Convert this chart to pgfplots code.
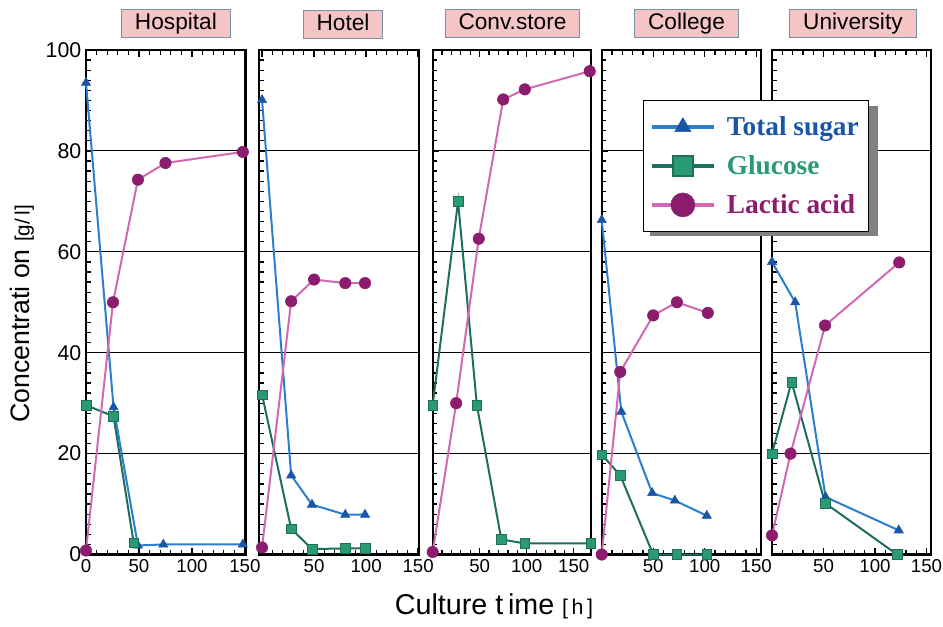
\documentclass[border=0pt]{standalone}
\usepackage{pgfplots}
\pgfplotsset{compat=1.18}
\usepackage{fontspec}
\setmainfont{Liberation Sans}
\newfontfamily\legfont{Liberation Serif}

\definecolor{sugarline}{RGB}{42,126,208}
\definecolor{sugarmark}{RGB}{26,86,168}
\definecolor{glucline}{RGB}{30,110,96}
\definecolor{glucmark}{RGB}{42,154,112}
\definecolor{lacline}{RGB}{210,104,178}
\definecolor{lacmark}{RGB}{140,28,110}
\definecolor{titlefill}{RGB}{245,196,196}
\definecolor{titledraw}{RGB}{122,144,168}

\pgfplotsset{
  sugar/.style={color=sugarline, line width=1.5pt, mark=triangle*, mark size=4pt,
    mark options={solid, fill=sugarmark, draw=sugarmark, line width=0.4pt}},
  gluc/.style={color=glucline, line width=1.5pt, mark=square*, mark size=3.6pt,
    mark options={solid, fill=glucmark, draw=glucline, line width=0.4pt}},
  lac/.style={color=lacline, line width=1.5pt, mark=*, mark size=4.3pt,
    mark options={solid, fill=lacmark, draw=lacmark, line width=0.4pt}},
  panel/.style={
    scale only axis, anchor=south west, height=378.4pt,
    ymin=0, ymax=100, ytick={0,20,...,100}, minor y tick num=9,
    xtick={0,50,100,150}, minor x tick num=4,
    xticklabels={,50,100,150}, yticklabels={},
    tick align=inside, ytick pos=left,
    major tick length=5pt, minor tick length=3.5pt,
    every tick/.style={black, line width=0.9pt},
    axis line style={line width=1.6pt},
    ymajorgrids, major grid style={black, line width=0.75pt},
    clip=false,
    /pgf/number format/assume math mode=true,
    yticklabel style={font=\fontsize{16}{16}\selectfont},
    xticklabel style={font=\fontsize{14}{14}\selectfont},
    title style={anchor=center, fill=titlefill, draw=titledraw, line width=0.7pt,
      font=\fontsize{17}{17}\selectfont, inner xsep=10pt, inner ysep=2.5pt,
      text height=12.5pt, text depth=3.5pt},
  },
}

\begin{document}
\begin{tikzpicture}
\useasboundingbox (0,0) rectangle (707.25pt,-469.5pt);

% Hospital
\begin{axis}[panel, at={(64.5pt,-415.9pt)}, width=119.6pt, xmin=0, xmax=150.5,
  xticklabels={0,50,100,150}, yticklabels={0,20,40,60,80,100},
  title={Hospital}, title style={at={(0.564,1.037)}},
  ylabel={Concentrati on {\fontsize{15.5}{15.5}\selectfont[g/\,l]}},
  ylabel style={at={(axis description cs:-0.40,0.477)}, anchor=center,
    font=\fontsize{20}{20}\selectfont}]
\addplot[sugar] coordinates {(0,93.5) (26,29.2) (49,1.8) (73,2) (148,2)};
\addplot[gluc] coordinates {(0,29.6) (26,27.4) (45,2.3)};
\addplot[lac] coordinates {(0,0.8) (25.5,50) (49,74.3) (75,77.6) (148,79.8)};
\end{axis}

% Hotel
\begin{axis}[panel, at={(194.5pt,-415.9pt)}, width=120pt, xmin=-2.6, xmax=151.2,
  title={Hotel}, title style={at={(0.523,1.035)}}]
\addplot[sugar] coordinates {(0,90.1) (28,15.7) (48,9.9) (80,7.9) (99,7.9)};
\addplot[gluc] coordinates {(0,31.7) (28,5.1) (48,1.1) (80,1.2) (99,1.2)};
\addplot[lac] coordinates {(0,1.4) (28,50.2) (50,54.5) (80,53.8) (99,53.8)};
\end{axis}

% Conv.store
\begin{axis}[panel, at={(324.5pt,-415.9pt)}, width=118.5pt, xmin=0, xmax=168,
  title={Conv.store}, title style={at={(0.505,1.037)}},
  xlabel={Culture t\,ime {\fontsize{16}{16}\selectfont[\,h\,]}},
  xlabel style={at={(axis description cs:0.388,-0.102)}, anchor=center,
    font=\fontsize{21.5}{21.5}\selectfont}]
\addplot[gluc] coordinates {(0,29.6) (27,70) (47,29.6) (73,3) (98,2.2) (168,2.2)};
\addplot[lac] coordinates {(0,0.5) (25,30) (49,62.6) (75,90.2) (98,92.2) (167,95.8)};
\end{axis}

% College
\begin{axis}[panel, at={(451.3pt,-415.9pt)}, width=119.25pt, xmin=0, xmax=154.4,
  title={College}, title style={at={(0.533,1.037)}}]
\addplot[sugar] coordinates {(0,66.3) (19,28.3) (49,12.2) (71,10.7) (102,7.7)};
\addplot[gluc] coordinates {(0,19.8) (18,15.7) (50,0) (73,0) (102,0)};
\addplot[lac] coordinates {(0,0) (18,36.2) (50,47.4) (73,50) (103,47.9)};
\end{axis}

% University (carries the legend, drawn last)
\begin{axis}[panel, at={(579pt,-415.9pt)}, width=119pt, xmin=0, xmax=154,
  title={University}, title style={at={(0.51,1.037)}},
  legend image code/.code={\draw[mark repeat=2, mark phase=2]
    plot coordinates {(0pt,0pt) (23pt,0pt) (46.5pt,0pt)};},
  legend style={at={(axis description cs:-0.813,0.901)}, anchor=north west,
    draw=black, line width=0.8pt, fill=white,
    font=\legfont\bfseries\fontsize{20.5}{20.5}\selectfont,
    inner xsep=5pt, inner ysep=10pt, row sep=9.5pt,
    /tikz/every odd column/.append style={column sep=6pt},
    legend cell align=left}]
\addplot[sugar, forget plot] coordinates {(0,58) (22.5,50) (52,11.4) (123,4.8)};
\addplot[gluc, forget plot] coordinates {(0,20) (19,34.2) (51.5,10.2) (121.5,0)};
\addplot[lac, forget plot] coordinates {(0,3.8) (18,20) (51.5,45.4) (123.5,57.9)};
% legend shadow
\fill[black!50] (axis description cs:-0.769,0.889) rectangle (axis description cs:0.668,0.631);
\addlegendimage{color=sugarline, line width=3pt, mark=triangle*, mark size=7pt,
  mark options={solid, fill=sugarmark, draw=sugarmark, line width=0.4pt}}
\addlegendentry{\textcolor{sugarmark}{Total sugar}}
\addlegendimage{color=glucline, line width=3pt, mark=square*, mark size=7.5pt,
  mark options={solid, fill=glucmark, draw=glucline, line width=1pt}}
\addlegendentry{\textcolor{glucmark}{Glucose}}
\addlegendimage{color=lacline, line width=3pt, mark=*, mark size=9pt,
  mark options={solid, fill=lacmark, draw=lacmark, line width=0.4pt}}
\addlegendentry{\textcolor{lacmark}{Lactic acid}}
\end{axis}
\end{tikzpicture}
\end{document}
